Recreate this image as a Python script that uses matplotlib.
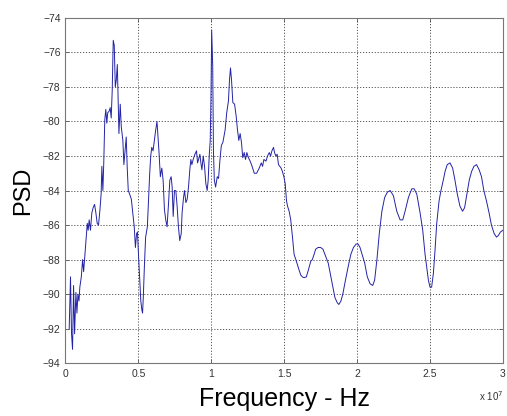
import matplotlib.pyplot as plt
import numpy as np

# frequency in units of 1e7 Hz, PSD in dB
freq = [0.026, 0.035, 0.042, 0.049, 0.056, 0.063, 0.072, 0.079, 0.086, 0.093,
        0.099, 0.109, 0.118, 0.125, 0.134, 0.143, 0.150, 0.156, 0.163, 0.172,
        0.181, 0.190, 0.200, 0.209, 0.218, 0.227, 0.236, 0.245, 0.250, 0.257,
        0.263, 0.270, 0.277, 0.284, 0.290, 0.300, 0.307, 0.314, 0.321, 0.328,
        0.335, 0.342, 0.349, 0.356, 0.362, 0.367, 0.376, 0.383, 0.394, 0.401,
        0.411, 0.417, 0.424, 0.431, 0.440, 0.452, 0.462, 0.472, 0.480, 0.488,
        0.494, 0.501, 0.510, 0.517, 0.524, 0.529, 0.534, 0.542, 0.550, 0.556,
        0.562, 0.570, 0.578, 0.585, 0.592, 0.601, 0.610, 0.619, 0.628, 0.635,
        0.642, 0.651, 0.661, 0.670, 0.679, 0.688, 0.697, 0.706, 0.716, 0.725,
        0.732, 0.739, 0.748, 0.757, 0.766, 0.775, 0.784, 0.794, 0.800, 0.810,
        0.817, 0.826, 0.835, 0.844, 0.853, 0.860, 0.867, 0.876, 0.888, 0.899,
        0.906, 0.913, 0.922, 0.929, 0.936, 0.945, 0.954, 0.963, 0.972, 0.979,
        0.986, 0.993, 0.998, 1.003, 1.010, 1.015, 1.021, 1.030, 1.041, 1.050,
        1.060, 1.069, 1.080, 1.095, 1.106, 1.118, 1.125, 1.132, 1.139, 1.148,
        1.160, 1.171, 1.180, 1.189, 1.198, 1.207, 1.216, 1.226, 1.235, 1.244,
        1.255, 1.267, 1.280, 1.295, 1.311, 1.329, 1.343, 1.352, 1.361, 1.375,
        1.386, 1.398, 1.407, 1.416, 1.427, 1.434, 1.443, 1.452, 1.461, 1.470,
        1.479, 1.488, 1.498, 1.507, 1.516, 1.523, 1.534, 1.545, 1.557, 1.568,
        1.580, 1.591, 1.602, 1.614, 1.625, 1.636, 1.652, 1.666, 1.682, 1.693,
        1.705, 1.716, 1.732, 1.750, 1.766, 1.784, 1.802, 1.818, 1.834, 1.848,
        1.864, 1.875, 1.889, 1.902, 1.920, 1.939, 1.957, 1.975, 1.993, 2.007,
        2.020, 2.034, 2.052, 2.070, 2.089, 2.107, 2.120, 2.136, 2.152, 2.170,
        2.189, 2.207, 2.227, 2.249, 2.272, 2.295, 2.313, 2.329, 2.352, 2.375,
        2.391, 2.409, 2.432, 2.450, 2.466, 2.477, 2.489, 2.500, 2.511, 2.523,
        2.534, 2.546, 2.562, 2.575, 2.591, 2.603, 2.618, 2.637, 2.655, 2.671,
        2.687, 2.705, 2.723, 2.737, 2.751, 2.769, 2.785, 2.801, 2.819, 2.837,
        2.853, 2.869, 2.887, 2.905, 2.921, 2.940, 2.956, 2.969, 2.983, 3.000]

psd = [-92.0, -89.0, -92.3, -93.2, -89.5, -92.3, -89.9, -91.1, -90.0, -90.4,
       -89.6, -89.0, -88.0, -88.7, -87.7, -86.7, -85.9, -86.3, -85.7, -86.3,
       -85.3, -85.0, -84.8, -85.3, -85.9, -86.0, -85.2, -84.2, -82.6, -84.0,
       -82.4, -79.9, -79.3, -80.1, -79.5, -79.4, -79.2, -79.8, -78.2, -75.3,
       -75.6, -78.0, -77.6, -76.7, -79.0, -80.7, -79.0, -80.3, -81.1, -82.5,
       -81.5, -80.9, -82.7, -84.0, -84.2, -84.5, -85.3, -86.1, -87.3, -86.5,
       -86.4, -87.7, -89.2, -90.4, -90.9, -91.1, -90.2, -88.3, -86.7, -86.4,
       -86.1, -84.5, -83.0, -82.0, -81.5, -81.7, -81.1, -80.5, -80.0, -80.9,
       -81.8, -83.2, -82.7, -83.4, -85.1, -85.7, -86.1, -84.9, -83.4, -83.2,
       -83.8, -85.5, -84.0, -84.0, -84.9, -86.1, -86.9, -86.5, -85.3, -84.4,
       -84.0, -84.7, -84.5, -83.8, -82.8, -82.2, -82.5, -82.2, -81.9, -81.7,
       -82.4, -82.2, -81.9, -82.4, -82.8, -82.0, -82.6, -83.6, -84.0, -83.4,
       -82.0, -81.1, -78.7, -74.7, -76.8, -81.7, -83.4, -83.8, -83.2, -83.3,
       -82.2, -81.4, -81.2, -80.5, -79.5, -78.8, -77.6, -76.9, -77.6, -78.9,
       -79.0, -79.7, -80.5, -81.1, -80.7, -81.2, -82.1, -81.8, -82.2, -81.8,
       -82.1, -82.3, -82.6, -83.0, -83.0, -82.7, -82.4, -82.6, -82.2, -82.3,
       -82.0, -81.8, -82.0, -81.7, -81.5, -81.8, -82.0, -81.9, -82.5, -82.6,
       -82.7, -82.9, -83.2, -83.6, -84.6, -84.9, -85.2, -85.7, -86.7, -87.7,
       -88.0, -88.3, -88.6, -88.9, -89.0, -89.05, -89.0, -88.6, -88.1, -88.0,
       -87.7, -87.4, -87.3, -87.3, -87.4, -87.8, -88.2, -88.9, -89.6, -90.2,
       -90.5, -90.6, -90.4, -90.0, -89.2, -88.4, -87.7, -87.3, -87.1, -87.1,
       -87.3, -87.7, -88.2, -89.0, -89.4, -89.5, -89.2, -88.0, -86.5, -85.2,
       -84.4, -84.1, -84.0, -84.3, -85.2, -85.7, -85.7, -85.2, -84.4, -83.9,
       -83.9, -84.2, -85.3, -86.3, -87.7, -88.4, -89.2, -89.6, -89.6, -88.8,
       -87.5, -85.9, -84.6, -84.0, -83.4, -82.9, -82.5, -82.4, -82.7, -83.4,
       -84.2, -84.9, -85.2, -85.0, -84.3, -83.4, -82.9, -82.6, -82.5, -82.8,
       -83.2, -84.0, -84.6, -85.3, -86.0, -86.5, -86.7, -86.6, -86.4, -86.3]

x_ticks = [0, 0.5, 1, 1.5, 2, 2.5, 3]
x_tick_labels = ['0', '0.5', '1', '1.5', '2', '2.5', '3']
y_ticks = list(range(-94, -73, 2))

plt.rcParams['font.family'] = ['Liberation Sans', 'DejaVu Sans']

fig = plt.figure(figsize=(5.07, 4.16), dpi=100)
ax = fig.add_axes([0.129, 0.127, 0.863, 0.830])

ax.plot(freq, psd, color='#2323a6', linewidth=0.7)

ax.set_xlim(0, 3)
ax.set_ylim(-94, -74)
ax.set_xticks(x_ticks)
ax.set_xticklabels(x_tick_labels)
ax.set_yticks(y_ticks)
ax.tick_params(direction='in', length=3, width=0.6, labelsize=7.5,
               colors='#555555', labelcolor='#333333', top=True, right=True)
ax.tick_params(axis='x', pad=4)
ax.grid(True, linestyle=(0, (1.2, 1.8)), color='#555555', linewidth=0.7)
for s in ax.spines.values():
    s.set_color('#777777')
    s.set_linewidth(0.8)

ax.set_xlabel('Frequency - Hz', fontsize=18, labelpad=6)
ax.set_ylabel('PSD', fontsize=17, labelpad=6)
ax.text(1.0, -0.075, r'x 10$^7$', transform=ax.transAxes, ha='right',
        va='top', fontsize=7, color='#333333')

fig.savefig('out.png', dpi=100)
